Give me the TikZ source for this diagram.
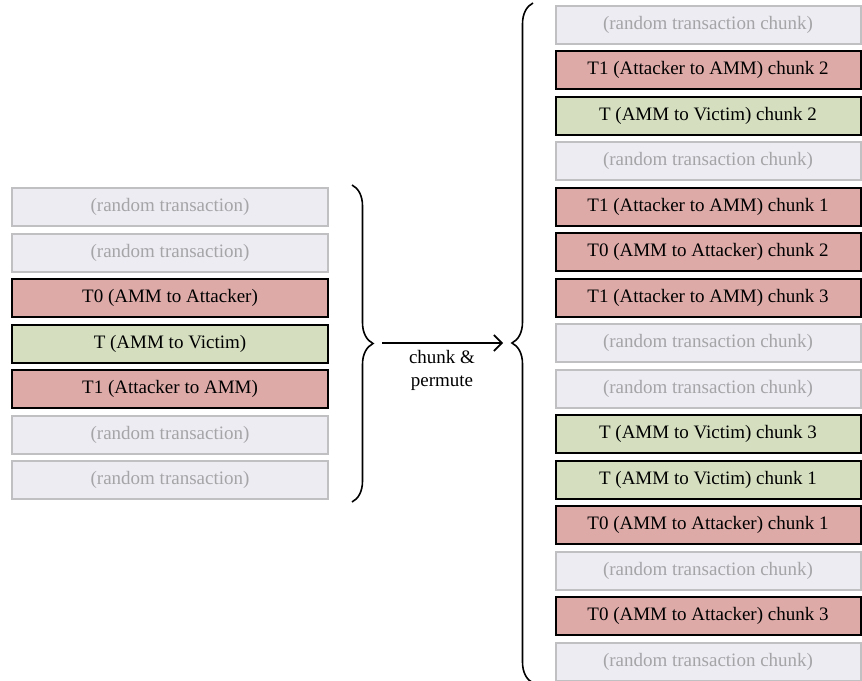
\documentclass[tikz,border=0pt]{standalone}
\usepackage{fontspec}
\setmainfont{Liberation Serif}
\usetikzlibrary{decorations.pathreplacing,arrows.meta}
\definecolor{rndfill}{RGB}{237,236,242}
\definecolor{rndline}{RGB}{192,192,194}
\definecolor{rndtext}{RGB}{165,165,168}
\definecolor{redfill}{RGB}{221,170,168}
\definecolor{greenfill}{RGB}{213,223,192}
\tikzset{
  txbox/.style={rectangle, minimum height=38pt, inner sep=0pt, line width=2pt,
    font=\fontsize{19}{23}\selectfont},
  leftbox/.style={txbox, minimum width=316pt},
  rightbox/.style={txbox, minimum width=305pt},
  rnd/.style={fill=rndfill, draw=rndline, text=rndtext},
  red/.style={fill=redfill, draw=black},
  grn/.style={fill=greenfill, draw=black},
  bracedeco/.style={decorate, decoration={brace, amplitude=21pt}, line width=1.6pt},
}
\begin{document}
\begin{tikzpicture}[x=1pt, y=-1pt]
\useasboundingbox (0,0) rectangle (862,680);
% left column
\node[leftbox, rnd] (l1) at (170,207) {(random transaction)};
\node[leftbox, rnd] (l2) at (170,252.5) {(random transaction)};
\node[leftbox, red] (l3) at (170,298) {T0 (AMM to Attacker)};
\node[leftbox, grn] (l4) at (170,343.5) {T (AMM to Victim)};
\node[leftbox, red] (l5) at (170,389) {T1 (Attacker to AMM)};
\node[leftbox, rnd] (l6) at (170,434.5) {(random transaction)};
\node[leftbox, rnd] (l7) at (170,480) {(random transaction)};
% right column
\def\ry#1{24.5+#1*45.5}
\node[rightbox, rnd] (r0) at (708,{\ry{0}}) {(random transaction chunk)};
\node[rightbox, red] (r1) at (708,{\ry{1}}) {T1 (Attacker to AMM) chunk 2};
\node[rightbox, grn] (r2) at (708,{\ry{2}}) {T (AMM to Victim) chunk 2};
\node[rightbox, rnd] (r3) at (708,{\ry{3}}) {(random transaction chunk)};
\node[rightbox, red] (r4) at (708,{\ry{4}}) {T1 (Attacker to AMM) chunk 1};
\node[rightbox, red] (r5) at (708,{\ry{5}}) {T0 (AMM to Attacker) chunk 2};
\node[rightbox, red] (r6) at (708,{\ry{6}}) {T1 (Attacker to AMM) chunk 3};
\node[rightbox, rnd] (r7) at (708,{\ry{7}}) {(random transaction chunk)};
\node[rightbox, rnd] (r8) at (708,{\ry{8}}) {(random transaction chunk)};
\node[rightbox, grn] (r9) at (708,{\ry{9}}) {T (AMM to Victim) chunk 3};
\node[rightbox, grn] (r10) at (708,{\ry{10}}) {T (AMM to Victim) chunk 1};
\node[rightbox, red] (r11) at (708,{\ry{11}}) {T0 (AMM to Attacker) chunk 1};
\node[rightbox, rnd] (r12) at (708,{\ry{12}}) {(random transaction chunk)};
\node[rightbox, red] (r13) at (708,{\ry{13}}) {T0 (AMM to Attacker) chunk 3};
\node[rightbox, rnd] (r14) at (708,{\ry{14}}) {(random transaction chunk)};
% braces
\coordinate (lbt) at (352,185);
\coordinate (lbb) at (352,502);
\draw[bracedeco] (lbt) -- (lbb);
\coordinate (rbt) at (533,3);
\coordinate (rbb) at (533,683);
\draw[bracedeco] (rbb) -- (rbt);
% arrow
\coordinate (as) at (382,343);
\coordinate (ae) at (503,343);
\draw[line width=1.6pt, -{Straight Barb[length=8pt,width=16pt,line width=1.6pt]}] (as) -- (ae);
\node[font=\fontsize{19}{23}\selectfont, align=center, anchor=north] (lab) at (442,347) {chunk \&\\permute};
\end{tikzpicture}
\end{document}
